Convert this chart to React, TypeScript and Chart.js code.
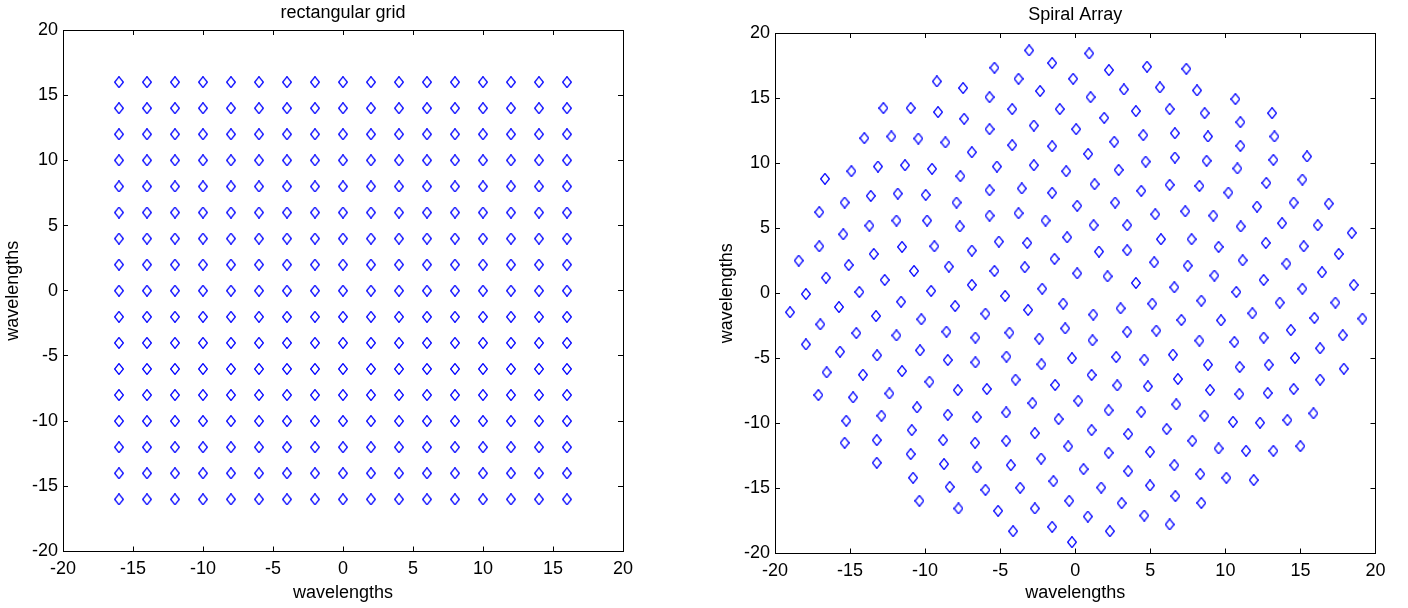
import React, { useEffect, useRef } from 'react';
import { Chart, registerables } from 'chart.js';

Chart.register(...registerables);

const FONT = '"Liberation Sans", Arial, sans-serif';

// tick labels shared by all axes
const axisTicks = [-20, -15, -10, -5, 0, 5, 10, 15, 20];

// rectangular grid: column and row positions (wavelengths)
const gridColumns = [-16, -14, -12, -10, -8, -6, -4, -2, 0, 2, 4, 6, 8, 10, 12, 14, 16];
const gridRows = [16, 14, 12, 10, 8, 6, 4, 2, 0, -2, -4, -6, -8, -10, -12, -14, -16];

// spiral array element positions (wavelengths)
const spiralX = [
  -9.22, -7.47, -12.78, -10.96, -9.14, -7.40, -14.05, -12.25, -10.45, -8.65, -6.89, -16.67, -14.91, -13.14, -11.34, -9.54, -7.65, -15.36, -13.62, -11.82, -9.96, -7.91,
  -3.07, 0.93, -5.38, -1.54, 2.24, 4.78, -3.78, -0.14, -2.34, 3.24, 5.64, -5.71, 1.02, -4.20, -1.03, 4.04, 6.29, 1.93, -5.71, -2.76, 0.06, 4.53, 6.64, -4.20, -1.54, 2.60, 0.86, 4.69, 6.64, -5.22, -2.76, -0.60, 2.89, -5.71, -3.56, -1.54, 1.29, 4.40, 6.29, 2.66,
  7.40, 8.11, 10.67, 8.62, 13.11, 11.00, 8.84, 13.27, 11.00, 8.75, 13.20, 15.44, 10.80, 8.27, 10.20, 12.73, 15.13, 14.55, 16.89,
  -17.05, -13.71, -11.91, -9.87, -7.69, -15.45, -17.05, -11.54, -9.38, -6.89, -13.42, -18.42, -15.09, -10.74, -8.42, -16.60, -12.69, -6.89, -17.94, -14.38, -9.60, -11.60, -19.00, -15.74, -8.00, -13.27, -10.25, -16.98, -14.58, -11.91, -8.58, -6.65, -17.94, -15.67, -13.20, -10.34, -8.49, -6.65, -16.56, -14.14, -11.54, -9.71,
  -5.71, -3.78, -1.98, 0.13, 1.22, 3.46, 5.33, -5.09, -3.20, -0.54, 1.58, 3.46, 5.71, -1.38, 5.26, -5.38, -3.36, 0.13, 2.15, 4.04, -2.20, 6.60, -4.67, -0.80, 5.13, -5.98, -3.14, 1.20, 3.02, -4.38, -0.67, 3.46, 5.40, -2.40, 1.15, -4.58, -2.25, -0.22, 2.73, 4.60, 6.51, -3.98, 1.09,
  7.33, 9.20, 12.11, 11.02, 13.78, 16.15, 18.42, 7.75, 9.55, 12.69, 15.22, 17.55, 7.49, 11.15, 14.07, 16.44, 9.27, 12.55, 18.55, 15.13, 10.73, 8.40, 13.62, 17.33, 7.07, 9.71, 11.80, 15.93, 19.13, 14.36, 8.27, 10.60, 12.55, 17.82, 16.31, 8.84, 10.95, 12.89, 14.64, 17.89, 6.84, 16.31,
  -17.11, -14.80, -12.38, -7.82, -10.54, -15.25, -12.91, -8.49, -6.56, -10.89, -15.36, -13.22, -8.80, -6.67, -10.96, -13.22, -8.74, -6.56, -10.80, -8.36, -10.38, -7.78,
  -5.89, -1.34, 2.80, 4.84, -2.85, 0.20, 6.73, -4.60, 2.22, 4.40, -1.11, 1.09, 3.53, 6.09, -2.69, -4.60, -0.47, 2.22, 4.98, -2.27, -4.29, 0.55, 3.53, 6.60, -5.98, -3.67, -1.45, 1.73, 4.98, 6.67, -0.40, 3.09, -5.14, -2.69, 0.84, 4.60, 6.29, -4.14, -1.54, 2.31, -0.22,
  8.98, 10.93, 12.82, 14.55, 8.60, 10.51, 12.31, 14.13, 15.87, 7.80, 9.55, 11.38, 13.20, 15.00, 8.33, 10.07, 11.89, 8.40,
];
const spiralY = [
  16.28, 15.77, 14.23, 14.23, 13.92, 13.41, 11.92, 12.05, 11.89, 11.59, 10.84, 8.79, 9.38, 9.74, 9.84, 9.56, 9.00, 6.97, 7.48, 7.66, 7.56, 6.97,
  18.66, 18.43, 17.33, 17.69, 17.15, 17.41, 16.48, 16.48, 15.54, 15.66, 15.82, 15.07, 15.07, 14.15, 14.15, 14.00, 14.15, 13.48, 12.61, 12.89, 12.61, 12.15, 12.30, 11.38, 11.30, 11.64, 10.71, 10.12, 10.43, 9.74, 9.84, 9.38, 9.48, 7.92, 8.05, 7.72, 8.38, 7.87, 8.33, 6.97,
  17.25, 15.59, 14.92, 13.84, 13.84, 13.15, 12.05, 12.05, 11.33, 10.18, 10.25, 10.51, 9.59, 8.25, 7.74, 8.48, 8.74, 6.97, 6.89,
  6.23, 5.20, 5.59, 5.59, 5.13, 4.53, 3.61, 3.56, 3.61, 3.28, 3.02, 2.51, 2.17, 1.71, 2.05, 1.20, 1.02, 0.64, -0.06, 0.10, 0.18, -0.65, -1.46, -1.06, -0.98, -1.75, -2.00, -2.39, -3.06, -3.24, -2.95, -3.41, -3.93, -4.49, -4.77, -4.39, -5.13, -5.31, -6.08, -6.26, -5.98, -6.80,
  5.97, 6.15, 5.59, 6.72, 5.23, 5.23, 6.07, 3.97, 3.87, 4.30, 3.20, 3.30, 4.15, 2.64, 2.38, 1.71, 2.00, 1.53, 1.30, 0.79, 0.35, 0.46, -0.21, -0.80, -0.80, -1.57, -1.28, -1.64, -1.16, -3.03, -2.70, -2.95, -2.87, -3.49, -3.62, -4.87, -5.46, -5.00, -4.90, -5.10, -4.72, -6.64, -6.28,
  6.30, 5.97, 6.66, 5.13, 5.38, 5.23, 4.64, 4.15, 3.56, 3.87, 3.61, 3.02, 2.12, 2.53, 2.28, 1.61, 1.36, 1.02, 0.64, 0.35, 0.10, -0.57, -0.72, -0.72, -2.06, -2.08, -1.54, -1.90, -1.95, -2.83, -3.64, -3.75, -3.41, -3.23, -4.23, -5.49, -5.67, -5.49, -4.97, -5.80, -6.59, -6.64,
  -7.82, -8.00, -7.70, -7.44, -8.77, -9.80, -9.41, -9.34, -9.52, -10.52, -11.49, -11.29, -11.29, -11.49, -12.36, -13.03, -13.13, -13.39, -14.18, -14.88, -15.95, -16.54,
  -7.36, -7.05, -7.08, -7.16, -8.44, -8.26, -8.54, -9.16, -9.00, -9.11, -9.67, -10.52, -10.82, -10.44, -10.75, -11.34, -11.77, -12.26, -12.18, -12.70, -13.21, -13.52, -13.67, -13.21, -15.11, -14.95, -14.44, -14.93, -14.77, -15.59, -15.95, -16.13, -16.72, -16.54, -17.16, -17.08, -17.77, -18.29, -17.95, -18.29, -19.13,
  -7.44, -7.75, -7.67, -7.36, -9.41, -9.88, -9.95, -9.75, -9.23, -11.34, -11.93, -12.11, -12.11, -11.75, -13.90, -14.18, -14.36, -16.11,
];

const titles = ['rectangular grid', 'Spiral Array'];
const axisLabel = 'wavelengths';

type PanelCfg = {
  x: number; W: number; H: number;
  left: number; top: number; right: number; bottom: number;
  title: string; titlePad: number; yTitlePad: number;
  points: { x: number; y: number }[];
};

function makeDiamond(): HTMLCanvasElement {
  const c = document.createElement('canvas');
  c.width = 10;
  c.height = 12;
  const g = c.getContext('2d')!;
  g.strokeStyle = '#0000ff';
  g.lineWidth = 1.3;
  g.beginPath();
  g.moveTo(5, 0.6);
  g.lineTo(9.4, 6);
  g.lineTo(5, 11.4);
  g.lineTo(0.6, 6);
  g.closePath();
  g.stroke();
  return c;
}

function buildScale(p: PanelCfg, id: string, position: string, showLabels: boolean, title: any) {
  const font = { family: FONT, size: 18 };
  return {
    type: 'linear',
    position,
    min: -20,
    max: 20,
    afterBuildTicks: (s: any) => {
      s.ticks = axisTicks.map((v) => ({ value: v }));
    },
    afterFit: (s: any) => {
      if (id === 'x') s.height = p.H - p.bottom;
      if (id === 'x2') s.height = p.top;
      if (id === 'y') s.width = p.left;
      if (id === 'y2') s.width = p.W - p.right;
    },
    ticks: {
      display: showLabels, color: '#000', font,
      padding: id === 'x' ? 12 : 10, autoSkip: false, maxRotation: 0,
    },
    grid: { display: true, drawOnChartArea: false, drawTicks: true, tickLength: -5, color: '#000', lineWidth: 1 },
    border: { display: true, color: '#000', width: 1 },
    title,
  };
}

function Panel({ cfg }: { cfg: PanelCfg }) {
  const ref = useRef<HTMLCanvasElement>(null);
  useEffect(() => {
    const font = { family: FONT, size: 18 };
    const diamond = makeDiamond();
    const chart = new Chart(ref.current!, {
      type: 'scatter',
      data: {
        datasets: [
          {
            data: cfg.points,
            pointStyle: diamond as any,
            pointRadius: 5,
            pointHoverRadius: 5,
            showLine: false,
          },
        ],
      },
      options: {
        responsive: false,
        maintainAspectRatio: false,
        devicePixelRatio: 1,
        animation: false,
        events: [],
        layout: { padding: 0, autoPadding: false },
        plugins: { legend: { display: false }, tooltip: { enabled: false }, title: { display: false } },
        scales: {
          x: buildScale(cfg, 'x', 'bottom', true, {
            display: true, text: axisLabel, color: '#000', font, padding: { top: 0, bottom: 4 },
          }),
          y: buildScale(cfg, 'y', 'left', true, {
            display: true, text: axisLabel, color: '#000', font, padding: { top: cfg.yTitlePad, bottom: 0 },
          }),
          x2: buildScale(cfg, 'x2', 'top', false, {
            display: true, text: cfg.title, color: '#000', font, padding: { top: cfg.titlePad, bottom: 0 },
          }),
          y2: buildScale(cfg, 'y2', 'right', false, { display: false }),
        } as any,
      },
    });
    return () => chart.destroy();
  }, [cfg]);
  return (
    <canvas
      ref={ref}
      width={cfg.W}
      height={cfg.H}
      style={{ position: 'absolute', left: cfg.x, top: 0, width: cfg.W, height: cfg.H }}
    />
  );
}

const gridPoints = gridRows.flatMap((y) => gridColumns.map((x) => ({ x, y })));
const spiralPoints = spiralX.map((x, i) => ({ x, y: spiralY[i] }));

const leftCfg: PanelCfg = {
  x: 0, W: 704, H: 608, left: 63, top: 30, right: 623, bottom: 551.5,
  title: titles[0], titlePad: 2, yTitlePad: 2, points: gridPoints,
};
const rightCfg: PanelCfg = {
  x: 704, W: 704, H: 608, left: 71, top: 33, right: 671.5, bottom: 553.5,
  title: titles[1], titlePad: 4, yTitlePad: 12, points: spiralPoints,
};

export default function App() {
  return (
    <div style={{ position: 'fixed', left: 0, top: 0, width: 1408, height: 608, background: '#fff' }}>
      <Panel cfg={leftCfg} />
      <Panel cfg={rightCfg} />
    </div>
  );
}
